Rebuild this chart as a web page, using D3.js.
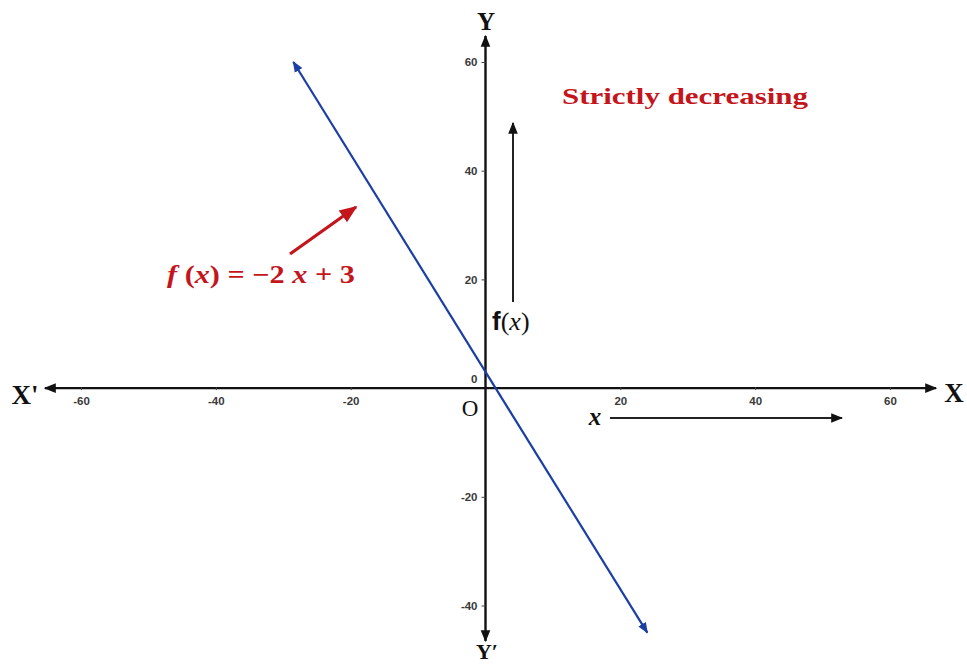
<!DOCTYPE html>
<html>
<head>
<meta charset="utf-8">
<script src="https://cdn.jsdelivr.net/npm/d3@7"></script>
<style>
  html, body { margin: 0; padding: 0; background: #fff; }
  svg { display: block; }
</style>
</head>
<body>
<svg id="chart" width="967" height="664"></svg>
<script>
// Tick values on each axis
const xTicks = [-60, -40, -20, 20, 40, 60];
const yTicks = [60, 40, 20, 0, -20, -40];
// End points of the plotted segment of f(x) = -2x + 3
const lineX = [-28.5, 24];
const lineY = [60, -45];

const svg = d3.select("#chart");

const x = d3.scaleLinear().domain([-60, 60]).range([81, 890]);
const y = d3.scaleLinear().domain([-40, 60]).range([605.5, 62]);

const defs = svg.append("defs");
function marker(id, color, size, reverse) {
  defs.append("marker")
    .attr("id", id)
    .attr("viewBox", "0 0 10 10")
    .attr("refX", reverse ? 1 : 9).attr("refY", 5)
    .attr("markerWidth", size).attr("markerHeight", size)
    .attr("markerUnits", "userSpaceOnUse")
    .attr("orient", "auto")
    .append("path")
    .attr("d", reverse ? "M10,1 L0,5 L10,9 Z" : "M0,1 L10,5 L0,9 Z")
    .attr("fill", color);
}
marker("arrBlack", "#111", 12);
marker("arrBlue", "#1b3fa3", 11);
marker("arrBlueStart", "#1b3fa3", 11, true);
marker("arrRed", "#c4151c", 18);

const fmt = d => d < 0 ? "-" + Math.abs(d) : String(d);
const tickFont = "'Liberation Sans', Arial, sans-serif";

// Axes drawn through the origin with arrowheads both ways
const x0 = x(0), y0 = y(0);
[[45, y0], [936, y0], [x0, 36], [x0, 641]].forEach(([ex, ey]) => {
  svg.append("line")
    .attr("x1", x0).attr("y1", y0).attr("x2", ex).attr("y2", ey)
    .attr("stroke", "#111").attr("stroke-width", 2.4)
    .attr("marker-end", "url(#arrBlack)");
});

// X ticks and labels
const xAxis = d3.axisBottom(x).tickValues(xTicks).tickSize(3).tickPadding(7).tickFormat(fmt);
const gx = svg.append("g").attr("transform", `translate(0,${y0 - 1})`).call(xAxis);
gx.select(".domain").remove();
gx.selectAll(".tick line").attr("stroke", "#444");
gx.selectAll(".tick text")
  .attr("font-family", tickFont).attr("font-weight", "bold")
  .attr("font-size", 11.5).attr("fill", "#3a3a3a");

// Y ticks and labels
const yAxis = d3.axisLeft(y).tickValues(yTicks.filter(d => d !== 0)).tickSize(4).tickPadding(4).tickFormat(fmt);
const gy = svg.append("g").attr("transform", `translate(${x0},0)`).call(yAxis);
gy.select(".domain").remove();
gy.selectAll(".tick line").attr("stroke", "#444");
gy.selectAll(".tick text")
  .attr("font-family", tickFont).attr("font-weight", "bold")
  .attr("font-size", 11.5).attr("fill", "#3a3a3a");
svg.append("text")
  .attr("x", x0 - 8).attr("y", y0 - 5)
  .attr("text-anchor", "end")
  .attr("font-family", tickFont).attr("font-weight", "bold")
  .attr("font-size", 11.5).attr("fill", "#3a3a3a")
  .text("0");

// Axis names
const serifBold = "'Liberation Serif', 'Times New Roman', serif";
function label(tx, ty, str, size) {
  return svg.append("text").attr("x", tx).attr("y", ty)
    .attr("text-anchor", "middle")
    .attr("font-family", serifBold).attr("font-weight", "bold")
    .attr("font-size", size).attr("fill", "#111").text(str);
}
label(954, 402, "X", 27);
label(25, 404, "X'", 27);
label(486, 30, "Y", 25);
label(487, 659, "Y\u2032", 22);
svg.append("text").attr("x", 470).attr("y", 416).attr("text-anchor", "middle")
  .attr("font-family", serifBold).attr("font-size", 23).attr("fill", "#111").text("O");

// The function line
svg.append("line")
  .attr("x1", x(lineX[0])).attr("y1", y(lineY[0]))
  .attr("x2", x(lineX[1])).attr("y2", y(lineY[1]))
  .attr("stroke", "#1b3fa3").attr("stroke-width", 2.2)
  .attr("marker-start", "url(#arrBlueStart)")
  .attr("marker-end", "url(#arrBlue)");

// Direction arrows: f(x) going up, x going right
svg.append("line")
  .attr("x1", 513).attr("y1", 302).attr("x2", 513).attr("y2", 123)
  .attr("stroke", "#222").attr("stroke-width", 2).attr("marker-end", "url(#arrBlack)");
svg.append("line")
  .attr("x1", 610).attr("y1", 418).attr("x2", 842).attr("y2", 418)
  .attr("stroke", "#222").attr("stroke-width", 2).attr("marker-end", "url(#arrBlack)");

const fx = svg.append("text").attr("x", 492).attr("y", 330)
  .attr("font-size", 26).attr("fill", "#111");
fx.append("tspan").attr("font-family", tickFont).attr("font-weight", "bold").text("f");
fx.append("tspan").attr("font-family", "'Liberation Serif', serif").text("(");
fx.append("tspan").attr("font-family", "'Liberation Serif', serif").attr("font-style", "italic").text("x");
fx.append("tspan").attr("font-family", "'Liberation Serif', serif").text(")");

svg.append("text").attr("x", 595).attr("y", 425).attr("text-anchor", "middle")
  .attr("font-family", serifBold).attr("font-weight", "bold").attr("font-style", "italic")
  .attr("font-size", 25).attr("fill", "#111").text("x");

// Annotation: equation with red pointer
svg.append("line")
  .attr("x1", 290).attr("y1", 254).attr("x2", 356).attr("y2", 207)
  .attr("stroke", "#c4151c").attr("stroke-width", 3.2).attr("marker-end", "url(#arrRed)");

const eq = svg.append("text").attr("x", 167).attr("y", 283)
  .attr("font-family", serifBold).attr("font-weight", "bold")
  .attr("font-size", 25).attr("fill", "#c4151c")
  .attr("textLength", 188).attr("lengthAdjust", "spacingAndGlyphs");
eq.append("tspan").attr("font-style", "italic").text("f");
eq.append("tspan").text(" (");
eq.append("tspan").attr("font-style", "italic").text("x");
eq.append("tspan").text(") = \u22122 ");
eq.append("tspan").attr("font-style", "italic").text("x");
eq.append("tspan").text(" + 3");

svg.append("text").attr("x", 562).attr("y", 104)
  .attr("font-family", serifBold).attr("font-weight", "bold")
  .attr("font-size", 24).attr("fill", "#c4151c")
  .attr("textLength", 246).attr("lengthAdjust", "spacingAndGlyphs")
  .text("Strictly decreasing");
</script>
</body>
</html>
